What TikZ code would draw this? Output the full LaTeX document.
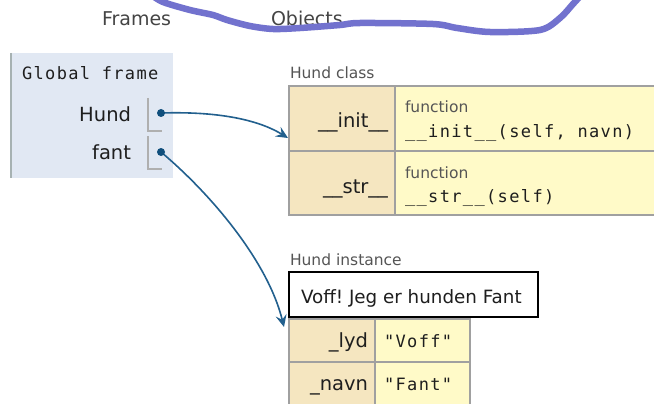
\documentclass[tikz,border=0pt]{standalone}
\usepackage{fontspec}
\setmainfont{DejaVu Sans}
\newfontfamily\codefont[LetterSpace=8]{DejaVu Sans Mono}
\usetikzlibrary{arrows.meta}
\frenchspacing

\definecolor{framefill}{HTML}{E1E8F3}
\definecolor{framebar}{HTML}{A7B2B2}
\definecolor{keyfill}{HTML}{F5E6C0}
\definecolor{valfill}{HTML}{FFFAC8}
\definecolor{cellline}{HTML}{A0A0A0}
\definecolor{slotline}{HTML}{AFAFAF}
\definecolor{refblue}{HTML}{22608E}
\definecolor{dotblue}{HTML}{0F4E7C}
\definecolor{inkpurple}{HTML}{7272CE}
\definecolor{headgrey}{HTML}{444444}
\definecolor{labelgrey}{HTML}{555555}
\definecolor{txt}{HTML}{1E1E1E}

\tikzset{
  txtnode/.style={inner sep=0pt, outer sep=0pt, text=txt},
  heading/.style={txtnode, text=headgrey, font=\fontsize{19}{22}\selectfont},
  caption/.style={txtnode, text=labelgrey, font=\fontsize{15.5}{18}\selectfont},
  varname/.style={txtnode, font=\fontsize{19.5}{22}\selectfont},
  codetxt/.style={txtnode, font=\codefont\fontsize{17}{20}\selectfont},
  cell/.style={draw=cellline, line width=1.3pt, inner sep=0pt, outer sep=0pt, anchor=north west},
  slot/.style={draw=slotline, line width=1.2pt},
  ref/.style={draw=refblue, line width=1.6pt, -{Stealth[length=12pt,width=11pt,inset=4.5pt]}},
  ink/.style={draw=inkpurple, line width=6.5pt, line cap=round, line join=round}
}

\begin{document}
\begin{tikzpicture}[x=1pt,y=-1pt]
\useasboundingbox (0,0) rectangle (654,404);
\clip (0,0) rectangle (654,404);
\fill[white] (0,0) rectangle (654,404);

% column headings
\node[heading, anchor=base west] (hframes) at (102,26) {Frames};
\node[heading, anchor=base west] (hobjects) at (271,26) {Objects};

% global frame
\node[inner sep=0pt, outer sep=0pt, fill=framefill, minimum width=163pt, minimum height=125pt, anchor=north west] (gframe) at (10,53) {};
\draw[framebar, line width=1.5pt] ([xshift=0.75pt]gframe.north west) -- ([xshift=0.75pt]gframe.south west);
\node[codetxt, anchor=base west] (gtitle) at (22,80) {Global frame};

\node[varname, anchor=base east] (vhund) at (131,121.5) {Hund};
\node[varname, anchor=base east] (vfant) at (131,160) {fant};
\draw[slot] (148,98) |- (162,131);
\draw[slot] (148,136) |- (162,169);
\coordinate (hundptr) at (161,113);
\coordinate (fantptr) at (161,152);

% class object
\node[caption, anchor=base west] (classlabel) at (290,78) {Hund class};
\node[cell, fill=keyfill, minimum width=106pt, minimum height=65pt] (initkey) at (289,86) {};
\node[cell, fill=valfill, minimum width=290pt, minimum height=65pt] (initval) at (395,86) {};
\node[cell, fill=keyfill, minimum width=106pt, minimum height=64pt] (strkey) at (289,151) {};
\node[cell, fill=valfill, minimum width=290pt, minimum height=64pt] (strval) at (395,151) {};

\node[varname, anchor=base east] (initname) at (388,128) {\_\_init\_\_};
\node[caption, anchor=base west] (initfn) at (405,113) {function};
\node[codetxt, anchor=base west] (initsig) at (405,137) {\_\_init\_\_(self, navn)};
\node[varname, anchor=base east] (strname) at (388,193) {\_\_str\_\_};
\node[caption, anchor=base west] (strfn) at (405,178) {function};
\node[codetxt, anchor=base west] (strsig) at (405,202) {\_\_str\_\_(self)};

% instance object
\node[caption, anchor=base west] (instlabel) at (290,265) {Hund instance};
\node[draw=black, line width=1.5pt, fill=white, inner sep=0pt, outer sep=0pt, minimum width=249pt, minimum height=45pt, anchor=north west] (strout) at (289,272) {};
\node[varname, font=\fontsize{18.3}{21}\selectfont, anchor=base west] (strouttxt) at (301,303) {Voff! Jeg er hunden Fant};

\node[cell, fill=keyfill, minimum width=86pt, minimum height=43pt] (lydkey) at (289,319) {};
\node[cell, fill=valfill, minimum width=95pt, minimum height=43pt] (lydval) at (375,319) {};
\node[cell, fill=keyfill, minimum width=86pt, minimum height=50pt] (navnkey) at (289,362) {};
\node[cell, fill=valfill, minimum width=95pt, minimum height=50pt] (navnval) at (375,362) {};

\node[varname, anchor=base east] (lydname) at (368,347) {\_lyd};
\node[codetxt, anchor=base west] (lydstr) at (384,347) {"Voff"};
\node[varname, anchor=base east] (navnname) at (368,390) {\_navn};
\node[codetxt, anchor=base west] (navnstr) at (384,390) {"Fant"};

% references
\coordinate (classin) at (288,138);
\coordinate (instin) at (284,327);
\draw[ref] (hundptr) .. controls (225,111) and (262,122) .. (classin);
\draw[ref] (fantptr) .. controls (212,195) and (268,262) .. (instin);
\fill[dotblue] (hundptr) circle (4pt);
\fill[dotblue] (fantptr) circle (4pt);

% freehand ink stroke across the headings
\draw[ink] plot[smooth, tension=0.5] coordinates {(150,-6) (163,2) (190,10) (213,15) (227,20) (250,26) (273,29) (300,28) (340,25) (360,23) (433,24) (457,28) (490,32) (540,30) (560,18) (573,4) (584,-8)};
\end{tikzpicture}
\end{document}
